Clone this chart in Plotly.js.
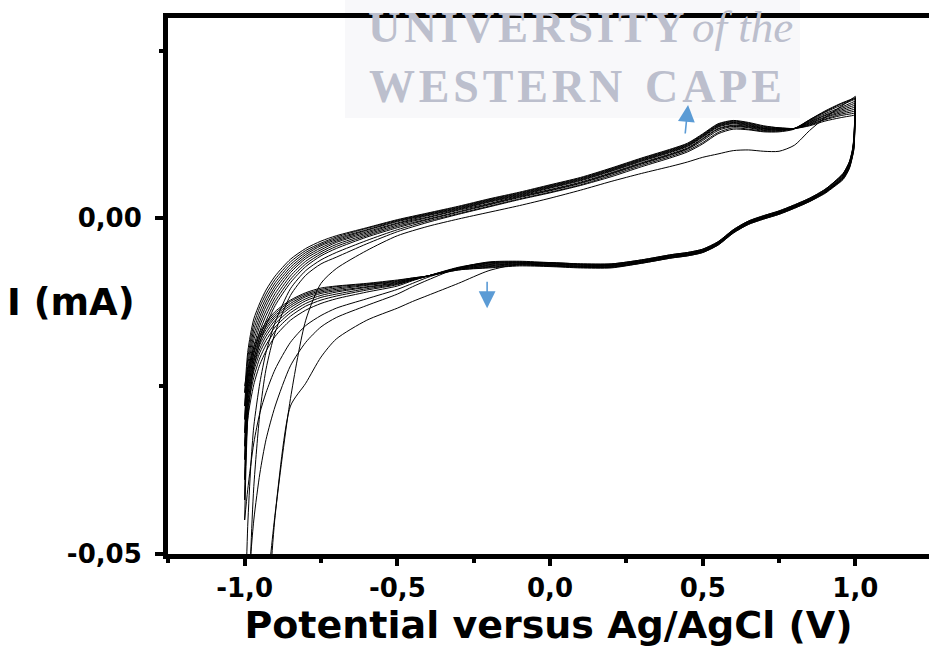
<!DOCTYPE html>
<html>
<head>
<meta charset="utf-8">
<script src="https://cdn.plot.ly/plotly-3.0.1.min.js"></script>
<style>html,body{margin:0;padding:0;background:#fff;}#chart{width:929px;height:652px;}</style>
</head>
<body>
<div id="chart"></div>
<script>
// Potential grid (V vs Ag/AgCl): anodic sweep and cathodic sweep
const potentialUp = [-1.0, -0.99, -0.98, -0.97, -0.95, -0.93, -0.9, -0.85, -0.8, -0.75, -0.7, -0.6, -0.5, -0.4, -0.3, -0.2, -0.1, 0.0, 0.1, 0.2, 0.3, 0.4, 0.45, 0.5, 0.55, 0.6, 0.65, 0.7, 0.75, 0.8, 0.85, 0.9, 0.95, 1.0];
const potentialDown = [1.0, 0.995, 0.99, 0.98, 0.96, 0.93, 0.9, 0.85, 0.8, 0.75, 0.7, 0.65, 0.6, 0.55, 0.5, 0.45, 0.4, 0.3, 0.2, 0.1, 0.0, -0.1, -0.2, -0.3, -0.4, -0.45, -0.5, -0.6, -0.7, -0.75, -0.8, -0.85, -0.9, -0.93, -0.95, -0.97, -0.99, -1.0];

// Current (mA), cycle by cycle
const cycle1Up = [-0.090, -0.086, -0.082, -0.078, -0.070, -0.062, -0.0443, -0.0269, -0.0152, -0.0097, -0.0075, -0.0048, -0.0026, -0.0012, -0.0001, 0.0009, 0.0019, 0.0030, 0.0042, 0.0055, 0.0067, 0.0078, 0.0084, 0.0091, 0.0096, 0.0101, 0.0102, 0.0100, 0.0100, 0.0109, 0.0131, 0.0150, 0.0166, 0.0182];
const cycle1Down = [0.0182, 0.0121, 0.0102, 0.0084, 0.0067, 0.0054, 0.0043, 0.0030, 0.0020, 0.0011, 0.0004, -0.0004, -0.0017, -0.0035, -0.0046, -0.0051, -0.0054, -0.0062, -0.0068, -0.0068, -0.0066, -0.0068, -0.0078, -0.0097, -0.0115, -0.0124, -0.0134, -0.0152, -0.0180, -0.0207, -0.0246, -0.0280, -0.0440, -0.0570, -0.0650, -0.0740, -0.0850, -0.0900];
const cycle2Up = [-0.090, -0.070, -0.050, -0.040, -0.029, -0.0225, -0.0170, -0.0115, -0.0085, -0.0068, -0.0058, -0.0038, -0.0020, -0.0006, 0.0006, 0.0017, 0.0028, 0.0038, 0.0049, 0.0062, 0.0077, 0.0091, 0.0099, 0.0111, 0.0126, 0.0133, 0.0132, 0.0129, 0.0129, 0.0133, 0.0147, 0.0160, 0.0171, 0.0180];
const cycle2Down = [0.0180, 0.0119, 0.0101, 0.0084, 0.0067, 0.0054, 0.0043, 0.0030, 0.0020, 0.0011, 0.0004, -0.0004, -0.0017, -0.0035, -0.0046, -0.0051, -0.0054, -0.0062, -0.0068, -0.0068, -0.0066, -0.0064, -0.0065, -0.0074, -0.0092, -0.0102, -0.0113, -0.0130, -0.0148, -0.0162, -0.0185, -0.0220, -0.0280, -0.0330, -0.0380, -0.0450, -0.0560, -0.0620];
const cycle3Up = [-0.062, -0.046, -0.037, -0.031, -0.0245, -0.0200, -0.0155, -0.0105, -0.0078, -0.0062, -0.0051, -0.0033, -0.0017, -0.0004, 0.0007, 0.0018, 0.0029, 0.0039, 0.0050, 0.0064, 0.0079, 0.0093, 0.0101, 0.0113, 0.0128, 0.0135, 0.0133, 0.0130, 0.0130, 0.0134, 0.0147, 0.0159, 0.0170, 0.0179];
const cycle3Down = [0.0179, 0.0118, 0.0100, 0.0083, 0.0066, 0.0053, 0.0042, 0.0029, 0.0019, 0.0010, 0.0003, -0.0005, -0.0018, -0.0036, -0.0047, -0.0052, -0.0055, -0.0063, -0.0069, -0.0069, -0.0067, -0.0065, -0.0066, -0.0074, -0.0088, -0.0097, -0.0106, -0.0120, -0.0134, -0.0145, -0.0160, -0.0185, -0.0225, -0.0260, -0.0290, -0.0335, -0.0405, -0.0450];
const cycle4Up = [-0.045, -0.0300, -0.0255, -0.0222, -0.0185, -0.0160, -0.0130, -0.0096, -0.0072, -0.0056, -0.0045, -0.0028, -0.0014, -0.0002, 0.0009, 0.0020, 0.0031, 0.0041, 0.0052, 0.0066, 0.0081, 0.0095, 0.0103, 0.0116, 0.0131, 0.0137, 0.0135, 0.0131, 0.0131, 0.0134, 0.0146, 0.0158, 0.0168, 0.0178];
const cycle4Down = [0.0178, 0.0117, 0.0099, 0.0082, 0.0065, 0.0052, 0.0042, 0.0029, 0.0019, 0.0010, 0.0003, -0.0005, -0.0018, -0.0036, -0.0047, -0.0052, -0.0055, -0.0063, -0.0069, -0.0069, -0.0067, -0.0065, -0.0066, -0.0073, -0.0086, -0.0093, -0.0101, -0.0110, -0.0120, -0.0127, -0.0137, -0.0152, -0.0176, -0.0198, -0.0218, -0.0248, -0.0300, -0.0420];
const cycle5Up = [-0.042, -0.0285, -0.0243, -0.0212, -0.0177, -0.0153, -0.0124, -0.0091, -0.0068, -0.0053, -0.0042, -0.0026, -0.0012, -0.0001, 0.0010, 0.0021, 0.0032, 0.0042, 0.0053, 0.0067, 0.0082, 0.0096, 0.0104, 0.0118, 0.0133, 0.0138, 0.0136, 0.0132, 0.0132, 0.0134, 0.0145, 0.0156, 0.0165, 0.0175];
const cycle5Down = [0.0175, 0.0115, 0.0098, 0.0081, 0.0064, 0.0051, 0.0041, 0.0028, 0.0018, 0.0009, 0.0002, -0.0006, -0.0019, -0.0037, -0.0048, -0.0053, -0.0056, -0.0064, -0.0070, -0.0070, -0.0068, -0.0066, -0.0067, -0.0074, -0.0086, -0.0092, -0.0099, -0.0107, -0.0116, -0.0122, -0.0131, -0.0146, -0.0168, -0.0189, -0.0208, -0.0237, -0.0286, -0.0390];
const cycle6Up = [-0.039, -0.0270, -0.0230, -0.0201, -0.0168, -0.0145, -0.0118, -0.0086, -0.0064, -0.0050, -0.0039, -0.0024, -0.0010, 0.0001, 0.0012, 0.0022, 0.0033, 0.0043, 0.0054, 0.0068, 0.0083, 0.0097, 0.0105, 0.0119, 0.0134, 0.0139, 0.0137, 0.0133, 0.0132, 0.0134, 0.0144, 0.0154, 0.0163, 0.0172];
const cycle6Down = [0.0172, 0.0113, 0.0097, 0.0080, 0.0063, 0.0050, 0.0040, 0.0028, 0.0018, 0.0009, 0.0002, -0.0006, -0.0019, -0.0037, -0.0048, -0.0053, -0.0056, -0.0064, -0.0070, -0.0070, -0.0068, -0.0066, -0.0068, -0.0074, -0.0086, -0.0092, -0.0098, -0.0105, -0.0113, -0.0118, -0.0127, -0.0141, -0.0162, -0.0182, -0.0200, -0.0228, -0.0274, -0.0360];
const cycle7Up = [-0.036, -0.0256, -0.0218, -0.0191, -0.0160, -0.0138, -0.0112, -0.0081, -0.0060, -0.0047, -0.0036, -0.0022, -0.0008, 0.0002, 0.0013, 0.0024, 0.0034, 0.0045, 0.0056, 0.0070, 0.0085, 0.0099, 0.0107, 0.0121, 0.0136, 0.0141, 0.0138, 0.0134, 0.0133, 0.0134, 0.0143, 0.0153, 0.0161, 0.0169];
const cycle7Down = [0.0169, 0.0111, 0.0096, 0.0079, 0.0062, 0.0050, 0.0040, 0.0027, 0.0017, 0.0008, 0.0001, -0.0007, -0.0020, -0.0038, -0.0049, -0.0054, -0.0057, -0.0065, -0.0071, -0.0071, -0.0069, -0.0067, -0.0069, -0.0075, -0.0086, -0.0091, -0.0097, -0.0103, -0.0110, -0.0115, -0.0123, -0.0137, -0.0157, -0.0176, -0.0194, -0.0221, -0.0264, -0.0340];
const cycle8Up = [-0.034, -0.0244, -0.0208, -0.0182, -0.0153, -0.0131, -0.0106, -0.0077, -0.0057, -0.0044, -0.0034, -0.0020, -0.0007, 0.0004, 0.0014, 0.0025, 0.0035, 0.0046, 0.0057, 0.0071, 0.0086, 0.0100, 0.0108, 0.0122, 0.0137, 0.0142, 0.0139, 0.0134, 0.0133, 0.0134, 0.0142, 0.0151, 0.0159, 0.0166];
const cycle8Down = [0.0166, 0.0109, 0.0095, 0.0078, 0.0061, 0.0049, 0.0039, 0.0027, 0.0017, 0.0008, 0.0001, -0.0007, -0.0020, -0.0038, -0.0049, -0.0054, -0.0057, -0.0065, -0.0071, -0.0072, -0.0070, -0.0068, -0.0070, -0.0075, -0.0086, -0.0091, -0.0096, -0.0102, -0.0108, -0.0112, -0.0120, -0.0133, -0.0152, -0.0171, -0.0188, -0.0214, -0.0256, -0.0320];
const cycle9Up = [-0.032, -0.0232, -0.0198, -0.0174, -0.0146, -0.0125, -0.0101, -0.0073, -0.0054, -0.0041, -0.0032, -0.0018, -0.0005, 0.0005, 0.0015, 0.0026, 0.0036, 0.0047, 0.0058, 0.0072, 0.0087, 0.0101, 0.0109, 0.0123, 0.0138, 0.0143, 0.0140, 0.0135, 0.0134, 0.0134, 0.0141, 0.0150, 0.0157, 0.0163];
const cycle9Down = [0.0163, 0.0107, 0.0094, 0.0077, 0.0061, 0.0049, 0.0039, 0.0026, 0.0016, 0.0007, 0.0000, -0.0008, -0.0021, -0.0039, -0.0050, -0.0055, -0.0058, -0.0066, -0.0072, -0.0072, -0.0070, -0.0068, -0.0071, -0.0076, -0.0086, -0.0090, -0.0095, -0.0100, -0.0106, -0.0110, -0.0117, -0.0130, -0.0148, -0.0166, -0.0183, -0.0208, -0.0248, -0.0300];
const cycle10Up = [-0.030, -0.0221, -0.0189, -0.0166, -0.0139, -0.0119, -0.0096, -0.0069, -0.0051, -0.0039, -0.0030, -0.0017, -0.0004, 0.0006, 0.0016, 0.0027, 0.0037, 0.0048, 0.0059, 0.0073, 0.0088, 0.0102, 0.0110, 0.0124, 0.0139, 0.0144, 0.0141, 0.0136, 0.0134, 0.0134, 0.0140, 0.0148, 0.0155, 0.0160];
const cycle10Down = [0.0160, 0.0106, 0.0093, 0.0076, 0.0060, 0.0048, 0.0038, 0.0026, 0.0016, 0.0007, 0.0000, -0.0008, -0.0021, -0.0039, -0.0050, -0.0055, -0.0058, -0.0066, -0.0073, -0.0073, -0.0071, -0.0069, -0.0072, -0.0076, -0.0086, -0.0090, -0.0094, -0.0099, -0.0104, -0.0108, -0.0115, -0.0127, -0.0145, -0.0162, -0.0178, -0.0202, -0.0240, -0.0280];
const cycle11Up = [-0.028, -0.0210, -0.0180, -0.0158, -0.0132, -0.0113, -0.0091, -0.0065, -0.0048, -0.0037, -0.0028, -0.0015, -0.0003, 0.0007, 0.0017, 0.0028, 0.0038, 0.0049, 0.0060, 0.0074, 0.0089, 0.0103, 0.0111, 0.0125, 0.0140, 0.0145, 0.0142, 0.0137, 0.0135, 0.0134, 0.0139, 0.0147, 0.0153, 0.0157];
const cycle11Down = [0.0157, 0.0104, 0.0092, 0.0075, 0.0059, 0.0048, 0.0038, 0.0025, 0.0015, 0.0006, -0.0001, -0.0009, -0.0022, -0.0040, -0.0051, -0.0056, -0.0059, -0.0067, -0.0073, -0.0073, -0.0071, -0.0070, -0.0073, -0.0077, -0.0086, -0.0089, -0.0093, -0.0098, -0.0102, -0.0106, -0.0113, -0.0124, -0.0142, -0.0158, -0.0174, -0.0197, -0.0233, -0.0260];
const cycle12Up = [-0.026, -0.0200, -0.0171, -0.0150, -0.0126, -0.0107, -0.0086, -0.0061, -0.0045, -0.0034, -0.0026, -0.0014, -0.0002, 0.0008, 0.0018, 0.0029, 0.0039, 0.0050, 0.0061, 0.0075, 0.0090, 0.0104, 0.0112, 0.0126, 0.0141, 0.0146, 0.0143, 0.0138, 0.0135, 0.0134, 0.0138, 0.0145, 0.0150, 0.0154];
const cycle12Down = [0.0154, 0.0103, 0.0091, 0.0074, 0.0058, 0.0047, 0.0037, 0.0025, 0.0015, 0.0006, -0.0001, -0.0009, -0.0022, -0.0040, -0.0051, -0.0056, -0.0059, -0.0067, -0.0074, -0.0074, -0.0072, -0.0071, -0.0074, -0.0077, -0.0086, -0.0089, -0.0092, -0.0097, -0.0101, -0.0104, -0.0111, -0.0122, -0.0139, -0.0155, -0.0170, -0.0192, -0.0226, -0.0250];

// Tick labels
const xTickVals = [-1.0, -0.5, 0.0, 0.5, 1.0];
const xTickText = ['-1,0', '-0,5', '0,0', '0,5', '1,0'];
const xMinorVals = [-1.25, -0.75, -0.25, 0.25, 0.75];
const yTickVals = [-0.05, 0.0];
const yTickText = ['-0,05', '0,00'];
const yMinorVals = [-0.025, 0.025];

// Trend arrows (tip positions, V and mA)
const arrowPotential = [0.452, -0.206];
const arrowCurrent = [0.0169, -0.0134];

const cyclesUp = [cycle1Up, cycle2Up, cycle3Up, cycle4Up, cycle5Up, cycle6Up, cycle7Up, cycle8Up, cycle9Up, cycle10Up, cycle11Up, cycle12Up];
const cyclesDown = [cycle1Down, cycle2Down, cycle3Down, cycle4Down, cycle5Down, cycle6Down, cycle7Down, cycle8Down, cycle9Down, cycle10Down, cycle11Down, cycle12Down];

const traces = cyclesUp.map((up, i) => ({
  type: 'scatter',
  mode: 'lines',
  x: potentialUp.concat(potentialDown),
  y: up.concat(cyclesDown[i]),
  line: {color: '#000000', width: 1, shape: 'spline', smoothing: 0.7},
  hoverinfo: 'skip',
  showlegend: false,
  name: 'Cycle ' + (i + 1)
}));

const boldFont = (size) => ({family: 'DejaVu Sans, Arial, sans-serif', size: size, color: '#000000', weight: 'bold'});
const markColor = '#bcbfcd';
const hs = '\u200a';
const spaced = (s) => s.split('').join(hs);

const layout = {
  width: 929,
  height: 652,
  margin: {l: 168, r: 0, t: 18, b: 98, pad: 0},
  paper_bgcolor: '#ffffff',
  plot_bgcolor: 'rgba(0,0,0,0)',
  showlegend: false,
  xaxis: {
    range: [-1.251, 1.241],
    showline: true, linewidth: 5, linecolor: '#000000', mirror: true,
    ticks: 'outside', ticklen: 7, tickwidth: 4, tickcolor: '#000000',
    tickmode: 'array', tickvals: xTickVals, ticktext: xTickText,
    tickfont: boldFont(26), ticklabelstandoff: 0,
    minor: {tickmode: 'array', tickvals: xMinorVals, ticks: 'outside', ticklen: 4, tickwidth: 4, tickcolor: '#000000', showgrid: false},
    showgrid: false, zeroline: false,
    title: {text: 'Potential versus Ag/AgCl (V)', font: boldFont(38), standoff: 10}
  },
  yaxis: {
    range: [-0.05007, 0.02988],
    showline: true, linewidth: 5, linecolor: '#000000', mirror: true,
    ticks: 'outside', ticklen: 8, tickwidth: 4, tickcolor: '#000000',
    tickmode: 'array', tickvals: yTickVals, ticktext: yTickText,
    tickfont: boldFont(26), ticklabelstandoff: 8,
    minor: {tickmode: 'array', tickvals: yMinorVals, ticks: 'outside', ticklen: 4, tickwidth: 4, tickcolor: '#000000', showgrid: false},
    showgrid: false, zeroline: false
  },
  shapes: [{
    type: 'rect', xref: 'paper', yref: 'paper', layer: 'below',
    x0: 0.2326, x1: 0.8305, y0: 0.8134, y1: 1.04,
    fillcolor: '#f8f8fa', line: {width: 0}
  }],
  annotations: [
    {xref: 'paper', yref: 'paper', x: -0.2142, y: 0.47, xanchor: 'left', yanchor: 'middle', showarrow: false,
     text: 'I (mA)', font: boldFont(37)},
    {xref: 'paper', yref: 'paper', x: 0.2615, y: 1.0325, xanchor: 'left', yanchor: 'top', showarrow: false, borderpad: 0,
     text: '<b>' + spaced('UNIVERSITY') + '</b>' + hs + hs + '<i>of the</i>', font: {family: 'Liberation Serif, Times New Roman, serif', size: 45, color: markColor}},
    {xref: 'paper', yref: 'paper', x: 0.2615, y: 0.8713, xanchor: 'left', yanchor: 'middle', showarrow: false,
     text: spaced('WESTERN') + '\u00a0\u00a0' + spaced('CAPE'), font: {family: 'Liberation Serif, Times New Roman, serif', size: 46, color: markColor, weight: 'bold'}},
    {xref: 'x', yref: 'y', x: arrowPotential[0], y: arrowCurrent[0], ax: -3, ay: 30, showarrow: true, text: '',
     arrowhead: 2, arrowsize: 2.1, arrowwidth: 1.6, arrowcolor: '#5b9bd5'},
    {xref: 'x', yref: 'y', x: arrowPotential[1], y: arrowCurrent[1], ax: 0, ay: -28, showarrow: true, text: '',
     arrowhead: 2, arrowsize: 2.1, arrowwidth: 1.6, arrowcolor: '#5b9bd5'}
  ]
};

Plotly.newPlot('chart', traces, layout, {staticPlot: true, displayModeBar: false});
</script>
</body>
</html>
